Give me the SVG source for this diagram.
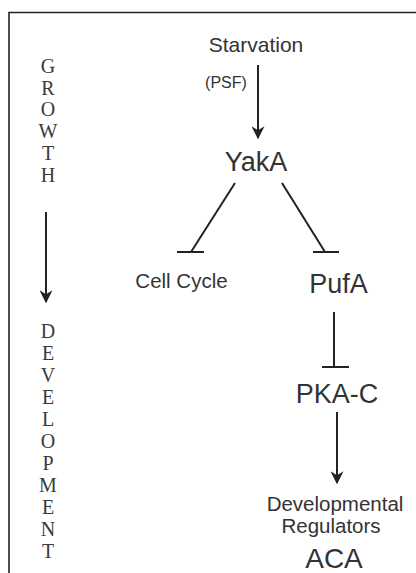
<svg xmlns="http://www.w3.org/2000/svg" width="416" height="573" viewBox="0 0 416 573">
<defs>
<style>
.lbl{font-family:"Liberation Sans",Arial,sans-serif;fill:#333;text-anchor:middle}
.side{font-family:"Liberation Serif","Times New Roman",serif;fill:#3a3a3a;font-size:20px;text-anchor:middle}
.ln{stroke:#222;fill:none;stroke-width:2}
</style>
<marker id="ah2" viewBox="0 0 10 10" refX="9" refY="5" markerWidth="15" markerHeight="13" orient="auto" markerUnits="userSpaceOnUse">
<path d="M0,0 L10,5 L0,10 L3,5 Z" fill="#222"/>
</marker>
</defs>
<rect width="416" height="573" fill="#fff"/>
<path d="M9,573 V12.5 H416" stroke="#222" stroke-width="1.6" fill="none"/>
<g id="side">
<text class="side" x="48" y="73">G</text>
<text class="side" x="48" y="95">R</text>
<text class="side" x="48" y="116">O</text>
<text class="side" x="48" y="138">W</text>
<text class="side" x="48" y="160">T</text>
<text class="side" x="48" y="182">H</text>
<text class="side" x="48" y="338">D</text>
<text class="side" x="48" y="360">E</text>
<text class="side" x="48" y="382">V</text>
<text class="side" x="48" y="404">E</text>
<text class="side" x="48" y="426">L</text>
<text class="side" x="48" y="448">O</text>
<text class="side" x="48" y="470">P</text>
<text class="side" x="48" y="492">M</text>
<text class="side" x="48" y="514">E</text>
<text class="side" x="48" y="536">N</text>
<text class="side" x="48" y="558">T</text>
</g>
<g id="starvation"><text class="lbl" x="256" y="52" font-size="21">Starvation</text></g>
<g id="yaka"><text class="lbl" x="256" y="171" font-size="27">YakA</text></g>
<g id="cellcycle"><text class="lbl" x="181.5" y="288" font-size="20.5">Cell Cycle</text></g>
<g id="pufa"><text class="lbl" x="338.5" y="293" font-size="27">PufA</text></g>
<g id="pkac"><text class="lbl" x="337" y="403" font-size="27">PKA-C</text></g>
<g id="devreg"><text class="lbl" x="335" y="511" font-size="20.5">Developmental</text><text class="lbl" x="331" y="533" font-size="20.5">Regulators</text></g>
<g id="aca"><text class="lbl" x="334" y="568" font-size="28">ACA</text></g>
<g id="connectors">
<line class="ln" x1="46" y1="212" x2="46" y2="302" stroke-width="3.5" marker-end="url(#ah2)"/>
<line class="ln" x1="258" y1="65" x2="258" y2="138" marker-end="url(#ah2)"/>
<text class="lbl" x="226" y="88" font-size="16">(PSF)</text>
<line class="ln" x1="235" y1="183" x2="191" y2="252"/>
<line class="ln" x1="177" y1="252" x2="204" y2="252"/>
<line class="ln" x1="282" y1="183" x2="325" y2="252"/>
<line class="ln" x1="313" y1="252" x2="339" y2="252"/>
<line class="ln" x1="334" y1="312" x2="334" y2="367" stroke-width="3.5"/>
<line class="ln" x1="322" y1="367" x2="349" y2="367" stroke-width="3.5"/>
<line class="ln" x1="337" y1="412" x2="337" y2="483" marker-end="url(#ah2)"/>
</g>
</svg>
